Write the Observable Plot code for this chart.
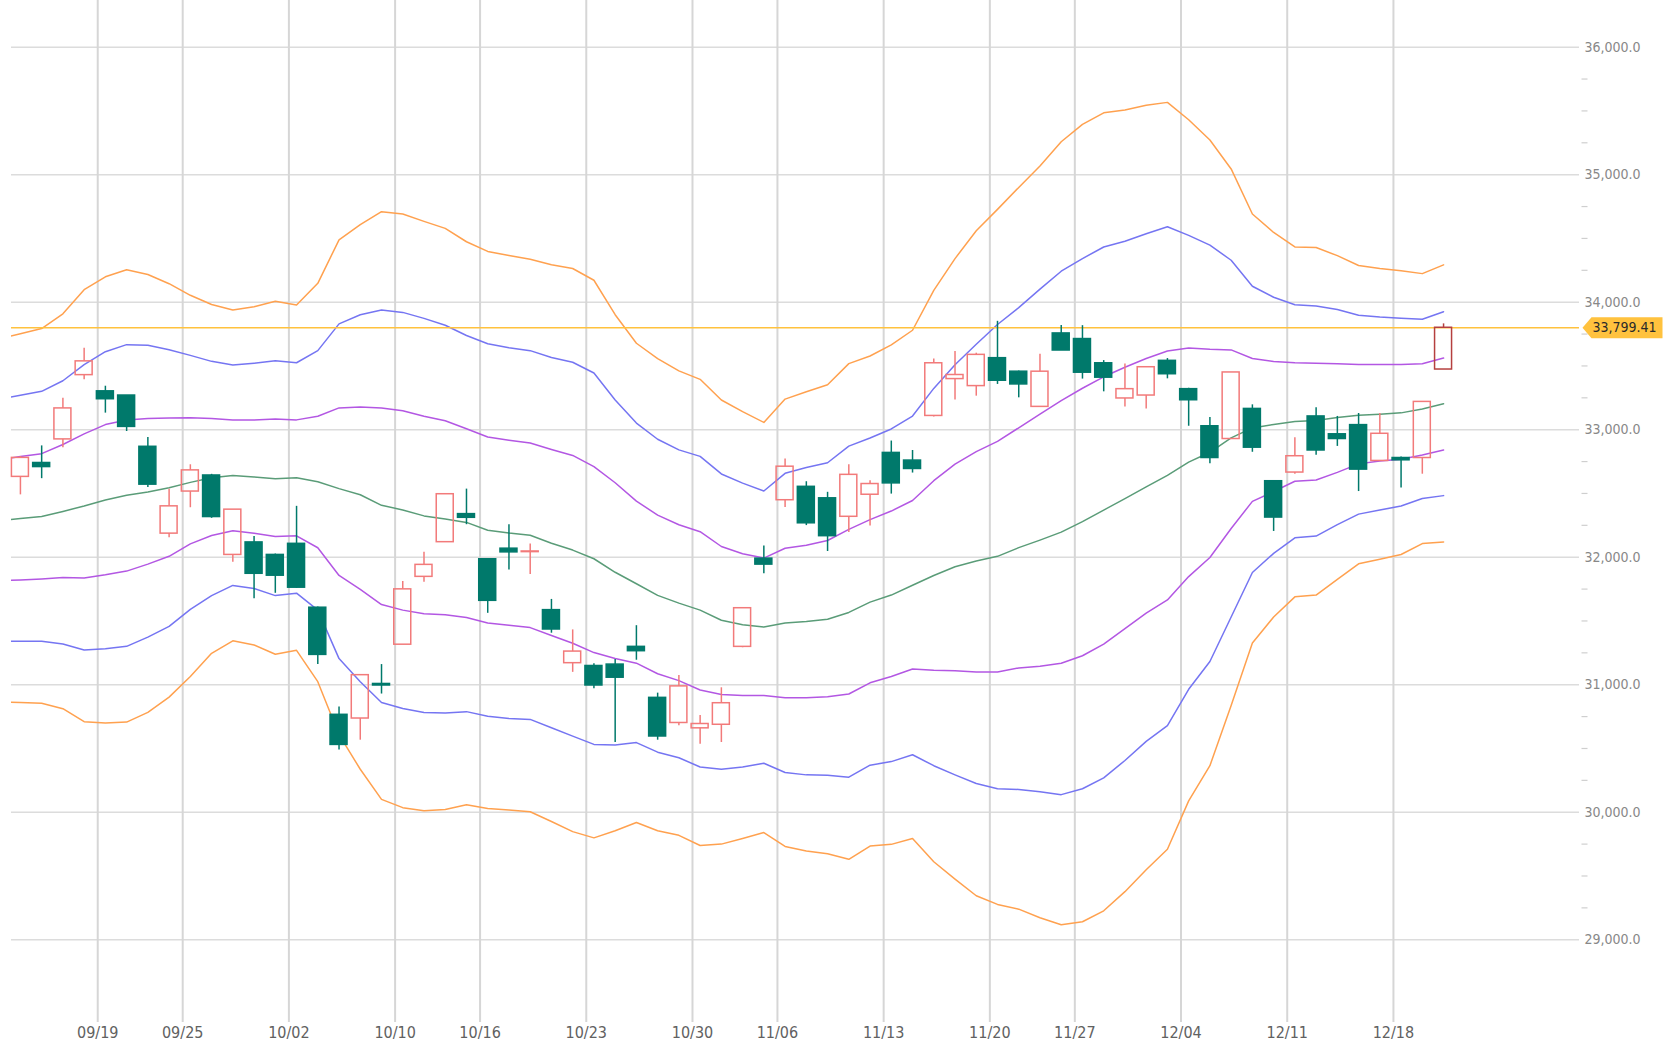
<!DOCTYPE html>
<html><head><meta charset="utf-8">
<script src="https://cdn.jsdelivr.net/npm/d3@7"></script>
<script src="https://cdn.jsdelivr.net/npm/@observablehq/plot@0.6"></script>
<style>
html,body{margin:0;padding:0;background:#fff;}
#chart{width:1673px;height:1044px;}
</style></head><body><div id="chart"></div>
<script>
// ---- data (trading days) ----
const dates = ["09/12","09/13","09/14","09/15","09/19","09/20","09/21","09/22","09/25","09/26","09/27","09/28","09/29",
"10/02","10/03","10/04","10/05","10/06","10/10","10/11","10/12","10/13","10/16","10/17","10/18","10/19","10/20",
"10/23","10/24","10/25","10/26","10/27","10/30","10/31","11/01","11/02","11/06","11/07","11/08","11/09","11/10",
"11/13","11/14","11/15","11/16","11/17","11/20","11/21","11/22","11/24","11/27","11/28","11/29","11/30","12/01",
"12/04","12/05","12/06","12/07","12/08","12/11","12/12","12/13","12/14","12/15","12/18","12/19","12/20"];
const open  = [32630,32739,32924,33428,33301,33268,32866,32185,32515,32641,32018,32116,32018,
32105,31604,30764,30735,31006,31314,31846,32118,32338,31984,32067,32040,31585,31169,
31147,31158,31297,30897,30700,30658,30686,31297,31989,32447,32552,32462,32317,32490,
32818,32758,33108,33397,33342,33561,33455,33179,33755,33711,33521,33245,33268,33540,
33318,33027,32927,33163,32596,32664,33104,32964,33036,32755,32778,32778,33472];
const high  = [32790,32873,33246,33638,33341,33268,32938,32533,32725,32650,32373,32163,32025,
32399,31610,30825,31075,31158,31810,32038,32494,32534,31990,32255,32103,31669,31430,
31165,31197,31463,30934,31073,30758,30976,31605,32087,32771,32592,32509,32726,32599,
32911,32837,33555,33613,33600,33850,33460,33592,33818,33816,33542,33516,33490,33558,
33325,33095,33449,33195,32600,32937,33172,33104,33127,33127,32785,33218,33830];
const low   = [32489,32616,32859,33391,33130,32986,32547,32152,32388,32305,31960,31674,31717,
31755,31158,30489,30565,30927,31314,31803,32118,32255,31560,31900,31864,31404,31097,
30968,30547,31192,30565,30679,30534,30547,31290,31871,32389,32248,32045,32194,32244,
32495,32660,33100,33232,33263,33355,33250,33179,33621,33397,33297,33179,33163,33399,
33027,32733,32927,32823,32202,32651,32800,32869,32515,32755,32542,32651,33472];
const close = [32779,32707,33167,33536,33239,33022,32569,32399,32681,32315,32373,31870,31855,
31761,31234,30528,31075,30994,31748,31940,32494,32309,31658,32038,32045,31433,31260,
30994,31055,31263,30594,30987,30692,30855,31600,31942,32710,32266,32165,32646,32574,
32579,32692,33521,33429,33587,33384,33355,33455,33621,33447,33408,33318,33490,33435,
33231,32778,33449,32859,32311,32792,32837,32927,32687,32968,32760,33218,33799.41];

// band lines start one trading day earlier (09/11)
const bandDates = ["09/11"].concat(dates);
const ma25   = [32288,32303,32319,32359,32402,32449,32486,32511,32544,32587,32623,32641,32630,32616,
32624,32592,32538,32490,32407,32371,32324,32299,32273,32212,32190,32172,32110,32056,
31988,31882,31792,31701,31640,31585,31506,31470,31452,31484,31495,31513,31567,31648,
31703,31780,31857,31925,31971,32007,32075,32134,32197,32279,32370,32460,32551,32642,
32746,32823,32936,33014,33041,33064,33073,33095,33113,33122,33132,33163,33204];
const upper1 = [32766,32789,32812,32884,32967,33040,33076,33087,33091,33094,33087,33076,33076,33083,
33077,33106,33171,33178,33171,33149,33106,33070,33008,32943,32918,32896,32845,32798,
32710,32584,32440,32330,32255,32200,32084,32027,31993,32070,32094,32131,32218,32295,
32362,32445,32600,32730,32828,32908,33015,33122,33228,33325,33415,33490,33558,33617,
33640,33630,33626,33558,33535,33526,33522,33517,33512,33512,33512,33517,33562];
const lower1 = [31814,31822,31830,31841,31837,31862,31891,31946,32007,32105,32170,32207,32188,32163,
32168,32074,31857,31748,31629,31585,31557,31549,31527,31484,31466,31448,31386,31325,
31252,31205,31169,31086,31032,30959,30923,30916,30916,30898,30898,30905,30927,31015,
31064,31123,31113,31109,31100,31100,31132,31145,31168,31227,31318,31440,31562,31665,
31848,31998,32225,32438,32515,32596,32606,32665,32732,32755,32769,32801,32841];
const upper2 = [33240,33270,33301,33384,33511,33612,33667,33663,33627,33583,33536,33507,33522,33540,
33525,33620,33830,33902,33938,33920,33873,33819,33739,33674,33642,33620,33566,33529,
33445,33233,33052,32925,32842,32791,32653,32581,32519,32658,32704,32741,32871,32935,
33006,33107,33324,33510,33670,33825,33957,34102,34243,34342,34433,34478,34537,34592,
34524,34447,34329,34125,34039,33980,33971,33943,33898,33884,33875,33866,33925];
const lower2 = [31341,31341,31341,31319,31272,31283,31301,31373,31457,31591,31699,31779,31754,31699,
31718,31585,31205,31024,30861,30814,30782,30778,30789,30753,30735,30728,30662,30597,
30532,30528,30546,30471,30427,30355,30337,30355,30384,30312,30293,30290,30275,30369,
30397,30451,30365,30293,30225,30184,30179,30161,30138,30184,30270,30406,30556,30680,
30964,31182,31531,31880,32030,32152,32166,32256,32338,32370,32401,32460,32483];
const upper3 = [33713,33753,33793,33909,34098,34199,34254,34217,34145,34054,33982,33938,33964,34007,
33978,34148,34489,34608,34710,34691,34634,34579,34474,34398,34366,34337,34293,34264,
34172,33902,33678,33558,33461,33395,33233,33142,33057,33240,33298,33353,33518,33578,
33665,33780,34093,34342,34560,34728,34900,35068,35258,35395,35485,35508,35544,35567,
35431,35272,35045,34692,34547,34433,34429,34365,34288,34265,34247,34224,34293];
const lower3 = [30866,30861,30855,30812,30710,30700,30707,30783,30903,31065,31246,31344,31312,31239,
31270,31024,30608,30337,30101,30036,30011,30022,30058,30029,30018,30004,29927,29848,
29799,29855,29920,29855,29819,29739,29750,29794,29841,29732,29696,29674,29631,29735,
29748,29794,29612,29476,29345,29277,29240,29172,29118,29141,29227,29377,29549,29710,
30089,30365,30837,31327,31531,31689,31703,31826,31948,31984,32021,32107,32120];

const tickDates = ["09/19","09/25","10/02","10/10","10/16","10/23","10/30","11/06","11/13","11/20","11/27","12/04","12/11","12/18"];
const yTicks = [29000,30000,31000,32000,33000,34000,35000,36000];
const lastPrice = 33799.41;

// ---- tables ----
const candles = dates.map((d, i) => ({i, date: d, o: open[i], h: high[i], l: low[i], c: close[i], last: i === dates.length - 1}));
const bands = bandDates.map((d, k) => ({i: k - 1, date: d, ma: ma25[k], u1: upper1[k], l1: lower1[k], u2: upper2[k], l2: lower2[k], u3: upper3[k], l3: lower3[k]}));
const tickPos = tickDates.map(d => ({pos: dates.indexOf(d) - 0.36, label: d}));
const minorTicks = d3.range(29250, 36000, 250).filter(v => v % 1000 !== 0);

const UP = "#f27a7a", DOWN = "#00796b", LAST = "#b5403f";
const colorOf = d => d.last ? LAST : (d.c >= d.o ? UP : DOWN);

const tagSymbol = {draw(ctx) { ctx.moveTo(0, 0); ctx.lineTo(9, -10.5); ctx.lineTo(80, -10.5); ctx.lineTo(80, 10.5); ctx.lineTo(9, 10.5); ctx.closePath(); }};
const dashSymbol = {draw(ctx) { ctx.moveTo(2, 0); ctx.lineTo(8, 0); }};

const FONT = "'DejaVu Sans Condensed', 'DejaVu Sans', sans-serif";

const bandLine = (key, color) => Plot.line(bands, {x: "i", y: key, stroke: color, strokeWidth: 1.5, clip: true});

const chart = Plot.plot({
  width: 1673,
  height: 1044,
  marginLeft: 11,
  marginRight: 94,
  marginTop: 0,
  marginBottom: 22,
  style: {fontFamily: FONT, background: "#fff", overflow: "visible"},
  x: {type: "linear", domain: [-0.42, 73.4], axis: null},
  y: {type: "linear", domain: [28351, 36366], axis: null},
  marks: [
    Plot.ruleY(yTicks, {stroke: "#dcdcdc", strokeWidth: 1.5}),
    Plot.ruleX(tickPos, {x: "pos", stroke: "#d6d6d6", strokeWidth: 2}),
    Plot.dot(minorTicks, {y: d => d, frameAnchor: "right", symbol: dashSymbol, stroke: "#cfcfcf", fill: "none", strokeWidth: 1.2}),
    bandLine("u3", "#ffa14f"),
    bandLine("l3", "#ffa14f"),
    bandLine("u2", "#7575f2"),
    bandLine("l2", "#7575f2"),
    bandLine("u1", "#b357e3"),
    bandLine("l1", "#b357e3"),
    bandLine("ma", "#5a9c78"),
    Plot.ruleY([lastPrice], {stroke: "#ffc23e", strokeWidth: 1.5}),
    // wicks (outside body)
    Plot.ruleX(candles, {x: "i", y1: "h", y2: d => Math.max(d.o, d.c), stroke: colorOf, strokeWidth: 1.5}),
    Plot.ruleX(candles, {x: "i", y1: d => Math.min(d.o, d.c), y2: "l", stroke: colorOf, strokeWidth: 1.5}),
    // bodies
    Plot.rect(candles, {x1: d => d.i - 0.4, x2: d => d.i + 0.4, y1: "o", y2: "c",
      fill: d => (d.c >= d.o || d.last) ? "none" : DOWN, stroke: colorOf, strokeWidth: 1.5}),
    // y labels
    Plot.text(yTicks, {y: d => d, frameAnchor: "right", dx: 5, textAnchor: "start", text: d => d3.format(",.1f")(d), fill: "#888", fontSize: 14}),
    // price tag
    Plot.dot([lastPrice], {y: d => d, frameAnchor: "right", dx: 3, symbol: tagSymbol, fill: "#ffc23e", stroke: "none"}),
    Plot.text([lastPrice], {y: d => d, frameAnchor: "right", dx: 13, textAnchor: "start", text: d => d3.format(",.2f")(d), fill: "#2a2a2a", fontSize: 14}),
    // x labels
    Plot.text(tickPos, {x: "pos", frameAnchor: "bottom", dy: 15, text: "label", fill: "#616161", fontSize: 16})
  ]
});
document.getElementById("chart").appendChild(chart);
</script>
</body></html>
